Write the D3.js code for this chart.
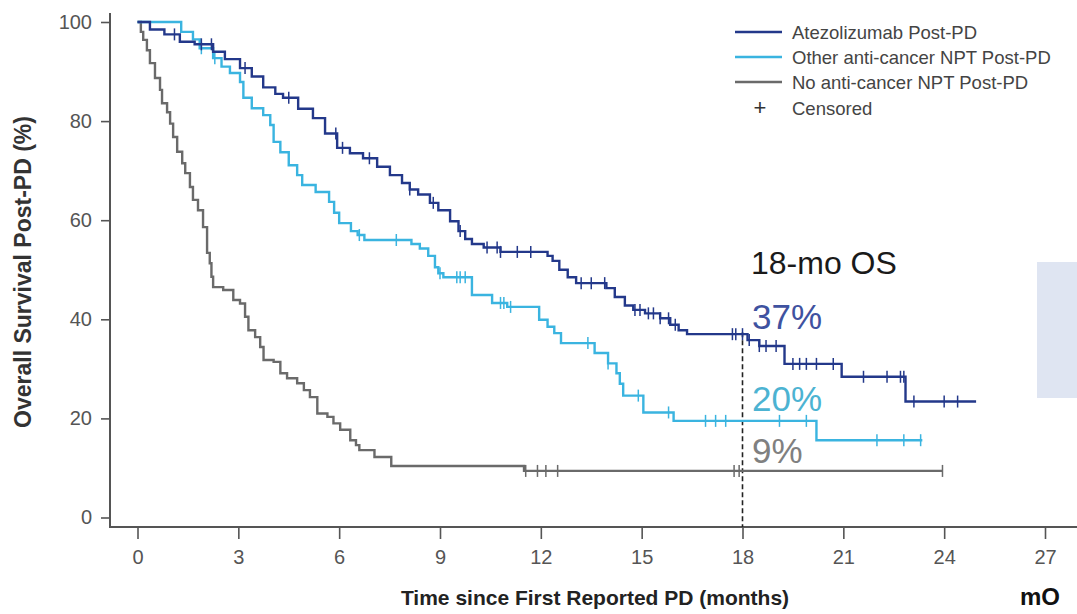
<!DOCTYPE html>
<html><head><meta charset="utf-8">
<script src="https://cdn.jsdelivr.net/npm/d3@7"></script>
<style>body{margin:0;background:#fff;} svg{display:block;font-family:"Liberation Sans",Arial,sans-serif;}</style>
</head><body><svg id="c" width="1077" height="614"></svg>
<script>
// ---- data ----
const seriesNames = ["Atezolizumab Post-PD", "Other anti-cancer NPT Post-PD", "No anti-cancer NPT Post-PD"];
const xTicks = [0, 3, 6, 9, 12, 15, 18, 21, 24, 27];
const yTicks = [0, 20, 40, 60, 80, 100];

const atezoTime = [0,0.37,0.8,1.26,1.7,2.25,2.6,3.05,3.4,3.74,4.1,4.33,4.78,5.22,5.58,5.94,6.32,6.71,7.13,7.51,7.87,8.1,8.35,8.7,8.95,9.3,9.55,9.75,9.95,10.3,10.8,12.2,12.35,12.55,12.8,13.05,13.95,14.2,14.5,14.75,15.1,15.55,15.85,16.1,16.35,18.15,18.5,19.25,20.95,22.85];
const atezoSurv = [100,98.5,97.5,96,95.5,94,92.5,90.7,89,86.8,85.5,84.7,82.5,80.6,77.5,74.6,73.5,72.5,70.8,69.1,67.5,66.2,65.2,63.5,62,59.8,57.8,56.2,55.2,54.5,53.6,52.8,51.8,50,48.5,47.3,46.3,44.5,42.8,41.9,41.2,40.2,38.9,37.8,37,35.8,34.6,31,28.4,23.4];
const atezoEnd = 24.95;
const atezoCensor = [1.1,1.9,2.2,3.2,4.5,5.9,6.1,6.9,8.1,8.8,9.6,10.4,10.7,10.8,11.3,11.7,13.2,13.5,13.9,14.8,14.95,15.2,15.35,15.55,15.8,16.0,17.7,17.8,18.0,18.2,18.5,18.7,19.0,19.5,19.7,19.9,20.2,20.7,21.6,22.3,22.7,22.8,23.1,24.0,24.4];

const otherTime = [0,1.3,1.65,1.85,2.25,2.5,2.75,3.05,3.15,3.4,3.74,3.95,4.05,4.25,4.5,4.75,4.9,5.3,5.7,5.85,6.0,6.35,6.55,6.75,8.15,8.4,8.65,8.85,8.95,9.1,9.95,10.55,11.0,11.95,12.2,12.4,12.6,13.6,14.0,14.25,14.35,14.45,15.05,15.95,20.2];
const otherSurv = [100,98,96.5,94.7,92.7,91,89.7,87.9,84.7,82.6,81.2,79.2,75.8,73.7,71.1,69.1,67.1,65.7,63.7,61.5,59.4,57.8,57,56,55.2,54.3,52.8,50.5,49.3,48.5,44.9,43.3,42.5,39.9,38.5,37.2,35.2,33.2,31.1,29.1,27,24.6,21.2,19.5,15.6];
const otherEnd = 23.35;
const otherCensor = [1.9,2.3,6.6,7.7,9.0,9.5,9.6,9.75,10.8,10.9,11.1,13.4,14.0,14.9,15.8,16.9,17.2,17.5,19.1,19.9,22.0,22.8,23.3];

const noneTime = [0,0.1,0.17,0.28,0.37,0.52,0.67,0.73,0.88,0.97,1.06,1.18,1.33,1.42,1.56,1.65,1.8,1.95,2.07,2.15,2.2,2.25,2.55,2.85,3.05,3.2,3.3,3.5,3.65,3.75,4.05,4.25,4.45,4.75,4.95,5.13,5.35,5.65,5.83,6.03,6.33,6.5,6.6,7.05,7.55,11.5];
const noneSurv = [100,98,96.4,94.3,91.7,88.7,86.3,83.6,81.8,79.5,76.8,73.8,71.5,69.5,66.7,64.1,62,58.6,53.4,51.3,48.6,46.5,45.9,43.9,43.2,40.5,37.8,36.4,34.4,31.8,31.4,29.1,28.1,27.1,25.7,24.3,21,20.3,19,17.7,15.6,14.6,13.6,12.2,10.4,9.4];
const noneEnd = 23.95;
const noneCensor = [11.55,11.9,12.15,12.5,17.75,17.9,23.95];

const osLabels = ["37%", "20%", "9%"];
const colors = ["#23388a", "#3ab4e0", "#6a6a6a"];
const labelColors = ["#3f52a0", "#4cb3d2", "#808080"];

// ---- chart ----
const svg = d3.select("#c");
const x = d3.scaleLinear().domain([0, 27]).range([137.5, 1045]);
const y = d3.scaleLinear().domain([0, 100]).range([517.5, 22]);
const axisColor = "#555";

// right-side cropped box
svg.append("rect").attr("x", 1037).attr("y", 262).attr("width", 40).attr("height", 136).attr("fill", "#dfe5f2");

// axes
const gx = svg.append("g").attr("transform", "translate(0,527)")
  .call(d3.axisBottom(x).tickValues(xTicks).tickSize(12).tickPadding(11).tickSizeOuter(0));
gx.select(".domain").remove();
svg.append("line").attr("x1", 110).attr("x2", 1077).attr("y1", 527).attr("y2", 527)
  .attr("stroke", axisColor).attr("stroke-width", 2);
const gy = svg.append("g").attr("transform", "translate(110,0)")
  .call(d3.axisLeft(y).tickValues(yTicks).tickSize(9).tickPadding(9).tickSizeOuter(0));
gy.select(".domain").remove();
svg.append("line").attr("x1", 110).attr("x2", 110).attr("y1", 13).attr("y2", 528)
  .attr("stroke", axisColor).attr("stroke-width", 2);
[gx, gy].forEach(g => {
  g.selectAll(".tick line").attr("stroke", axisColor).attr("stroke-width", 1.6);
  g.selectAll(".tick text").attr("fill", "#555").style("font-size", "20px")
    .style("font-family", "'Liberation Sans', Arial, sans-serif");
});

// axis titles
svg.append("text").attr("x", 595).attr("y", 605).attr("text-anchor", "middle")
  .style("font-size", "21px").style("font-weight", "bold").attr("fill", "#222")
  .text("Time since First Reported PD (months)");
svg.append("text").attr("transform", "translate(31,272) rotate(-90)").attr("text-anchor", "middle")
  .style("font-size", "23px").style("font-weight", "bold").attr("fill", "#333")
  .text("Overall Survival Post-PD (%)");

// dashed 18-month line
svg.append("line").attr("x1", x(18)).attr("x2", x(18)).attr("y1", y(37) - 2).attr("y2", 527)
  .attr("stroke", "#222").attr("stroke-width", 1.6).attr("stroke-dasharray", "5,3");

// curves
const series = [
  {time: atezoTime, surv: atezoSurv, end: atezoEnd, cens: atezoCensor},
  {time: otherTime, surv: otherSurv, end: otherEnd, cens: otherCensor},
  {time: noneTime, surv: noneSurv, end: noneEnd, cens: noneCensor}
];
const line = d3.line().x(d => x(d[0])).y(d => y(d[1])).curve(d3.curveStepAfter);
[2, 1, 0].forEach(i => {
  const s = series[i];
  const pts = s.time.map((t, k) => [t, s.surv[k]]);
  pts.push([s.end, s.surv[s.surv.length - 1]]);
  svg.append("path").datum(pts).attr("d", line).attr("fill", "none")
    .attr("stroke", colors[i]).attr("stroke-width", 2.4);
  const valAt = t => { let v = s.surv[0]; s.time.forEach((tt, k) => { if (tt <= t) v = s.surv[k]; }); return v; };
  const g = svg.append("g").attr("stroke", colors[i]).attr("stroke-width", 1.5);
  s.cens.forEach(t => {
    const cx = x(t), cy = y(valAt(t));
    g.append("line").attr("x1", cx).attr("x2", cx).attr("y1", cy - 6).attr("y2", cy + 6);
  });
});

// annotations
svg.append("text").attr("x", 751).attr("y", 274).style("font-size", "32px").attr("fill", "#1a1a1a").text("18-mo OS");
const labelY = [329, 411, 463];
osLabels.forEach((t, i) => {
  svg.append("text").attr("x", 752).attr("y", labelY[i]).style("font-size", "35px")
    .attr("fill", labelColors[i]).text(t);
});

// legend
const legY = [32, 57, 82];
seriesNames.forEach((n, i) => {
  svg.append("line").attr("x1", 735).attr("x2", 782).attr("y1", legY[i]).attr("y2", legY[i])
    .attr("stroke", colors[i]).attr("stroke-width", 2.6);
  svg.append("text").attr("x", 792).attr("y", legY[i] + 6.5).style("font-size", "18.5px")
    .attr("fill", "#444").text(n);
});
svg.append("text").attr("x", 760).attr("y", 115).attr("text-anchor", "middle")
  .style("font-size", "22px").attr("fill", "#333").text("+");
svg.append("text").attr("x", 792).attr("y", 114.5).style("font-size", "18.5px").attr("fill", "#444").text("Censored");

// partially visible text at the bottom right
svg.append("text").attr("x", 1020).attr("y", 605).style("font-size", "24px").style("font-weight", "bold")
  .attr("fill", "#111").text("mO");
</script></body></html>
